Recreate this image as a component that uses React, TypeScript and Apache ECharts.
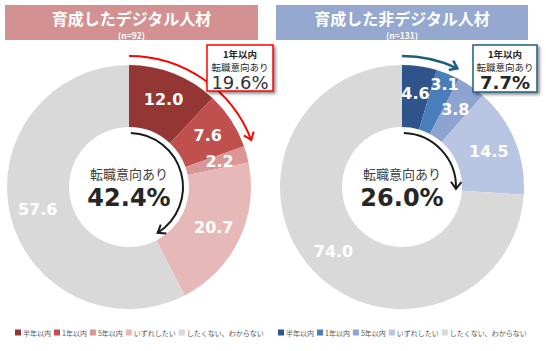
import React, { useEffect, useRef } from "react";
import * as echarts from "echarts";

const categories = ["半年以内", "1年以内", "5年以内", "いずれしたい", "したくない、わからない"];
const digitalValues = [12.0, 7.6, 2.2, 20.7, 57.6];
const nonDigitalValues = [4.6, 3.1, 3.8, 14.5, 74.0];
const digitalColors = ["#943634", "#C0504D", "#D99694", "#E6B9B8", "#D9D9D9"];
const nonDigitalColors = ["#2F548C", "#4A7EBB", "#8EA4D0", "#B8C6E4", "#D9D9D9"];
const titles = ["育成したデジタル人材", "育成した非デジタル人材"];
const sampleSizes = ["(n=92)", "(n=131)"];
const intentTotals = ["42.4%", "26.0%"];
const withinOneYear = ["19.6%", "7.7%"];

const CJK = "'Noto Sans CJK JP', 'Noto Sans', sans-serif";
const NUM = "'DejaVu Sans', Verdana, sans-serif";

function txt(text: string, x: number, y: number, size: number, color: string, weight: string, family: string, z = 110) {
  return {
    type: "text",
    z,
    style: {
      text,
      x,
      y,
      fill: color,
      fontSize: size,
      fontWeight: weight,
      fontFamily: family,
      align: "center",
      textAlign: "center",
      verticalAlign: "middle",
      textVerticalAlign: "middle",
    },
  };
}

function arcArrow(cx: number, cy: number, r: number, th0: number, th1: number, color: string, width: number, head: number) {
  const a0 = ((th0 - 90) * Math.PI) / 180;
  const a1 = ((th1 - 90) * Math.PI) / 180;
  const tip = [cx + r * Math.cos(a1), cy + r * Math.sin(a1)];
  const t = [-Math.sin(a1), Math.cos(a1)];
  const n = [Math.cos(a1), Math.sin(a1)];
  const L = head;
  const W = head * 0.75;
  const p1 = [tip[0] - L * t[0] + W * n[0], tip[1] - L * t[1] + W * n[1]];
  const p2 = [tip[0] - L * t[0] - W * n[0], tip[1] - L * t[1] - W * n[1]];
  return [
    {
      type: "arc",
      z: 100,
      shape: { cx, cy, r, startAngle: a0, endAngle: a1, clockwise: true },
      style: { stroke: color, lineWidth: width, fill: "none" },
    },
    {
      type: "polyline",
      z: 100,
      shape: { points: [p1, tip, p2] },
      style: { stroke: color, lineWidth: width, fill: "none" },
    },
  ];
}

export default function App() {
  const ref = useRef<HTMLDivElement>(null);
  useEffect(() => {
    document.body.style.margin = "0";
    const chart = echarts.init(ref.current!, undefined, { renderer: "svg" });

    const pie = (values: number[], colors: string[], cx: number, special?: (p: any) => any) => ({
      type: "pie",
      center: [cx, 187],
      radius: [60, 122],
      startAngle: 90,
      clockwise: true,
      silent: true,
      avoidLabelOverlap: false,
      data: categories.map((name, i) => ({ name, value: values[i], itemStyle: { color: colors[i] } })),
      label: {
        show: true,
        position: "inside",
        formatter: (p: any) => Number(p.value).toFixed(1),
        color: "#ffffff",
        fontSize: 16,
        fontWeight: "bold",
        fontFamily: NUM,
      },
      labelLine: { show: false },
      labelLayout: special,
      emphasis: { disabled: true },
    });

    const legend = (left: number, colors: string[]) => ({
      left,
      top: 329,
      padding: 0,
      orient: "horizontal",
      icon: "rect",
      itemWidth: 6,
      itemHeight: 6,
      itemGap: 3,
      selectedMode: false,
      data: categories.map((name, i) => ({ name, itemStyle: { color: colors[i] } })),
      textStyle: { fontSize: 7, color: "#595959", fontFamily: CJK, padding: [0, 0, 0, -3] },
    });

    const graphic: any[] = [
      { type: "rect", z: 90, shape: { x: 5, y: 5, width: 253, height: 35 }, style: { fill: "#D39291" } },
      { type: "rect", z: 90, shape: { x: 276, y: 5, width: 252, height: 35 }, style: { fill: "#94A8D0" } },
      txt(titles[0], 131.5, 18, 16, "#ffffff", "bold", CJK),
      txt(sampleSizes[0], 131.5, 35, 8.5, "#ffffff", "bold", CJK),
      txt(titles[1], 402, 18, 16, "#ffffff", "bold", CJK),
      txt(sampleSizes[1], 402, 35, 8.5, "#ffffff", "bold", CJK),
      txt("転職意向あり", 129, 173, 13, "#404040", "normal", CJK),
      txt(intentTotals[0], 129, 198, 24, "#262626", "bold", NUM),
      txt("転職意向あり", 402, 173, 13, "#404040", "normal", CJK),
      txt(intentTotals[1], 402, 198, 24, "#262626", "bold", NUM),
      ...arcArrow(129, 187, 54, 2, 148, "#1a1a1a", 2, 7),
      ...arcArrow(402, 187, 54, 2, 92, "#1a1a1a", 2, 7),
      ...arcArrow(129, 187, 131, 0, 69, "#FF0000", 2, 7),
      ...arcArrow(402, 187, 131, 0, 25, "#1F5F7E", 2.5, 7),
      {
        type: "rect",
        z: 105,
        shape: { x: 207, y: 45, width: 66, height: 46 },
        style: { fill: "#ffffff", stroke: "#FF0000", lineWidth: 1.5, shadowBlur: 3, shadowOffsetX: 2, shadowOffsetY: 2, shadowColor: "rgba(0,0,0,0.45)" },
      },
      txt("1年以内", 240, 54, 9.5, "#262626", "bold", CJK),
      txt("転職意向あり", 240, 66.5, 9.5, "#262626", "normal", CJK),
      txt(withinOneYear[0], 240, 82.5, 18, "#333333", "normal", NUM),
      {
        type: "rect",
        z: 105,
        shape: { x: 473, y: 45, width: 64, height: 47 },
        style: { fill: "#ffffff", stroke: "#1F5F7E", lineWidth: 1.5, shadowBlur: 3, shadowOffsetX: 2, shadowOffsetY: 2, shadowColor: "rgba(0,0,0,0.45)" },
      },
      txt("1年以内", 505, 54, 9.5, "#262626", "bold", CJK),
      txt("転職意向あり", 505, 66.5, 9.5, "#262626", "normal", CJK),
      txt(withinOneYear[1], 505, 82.5, 18, "#262626", "bold", NUM),
    ];

    chart.setOption({
      animation: false,
      backgroundColor: "#ffffff",
      legend: [legend(15, digitalColors), legend(278, nonDigitalColors)],
      series: [
        pie(digitalValues, digitalColors, 129),
        pie(nonDigitalValues, nonDigitalColors, 402, (p: any) => (p.dataIndex === 1 ? { dx: 7, dy: -15 } : {})),
      ],
      graphic,
    });
    return () => chart.dispose();
  }, []);
  return <div ref={ref} style={{ width: 546, height: 351 }} />;
}
